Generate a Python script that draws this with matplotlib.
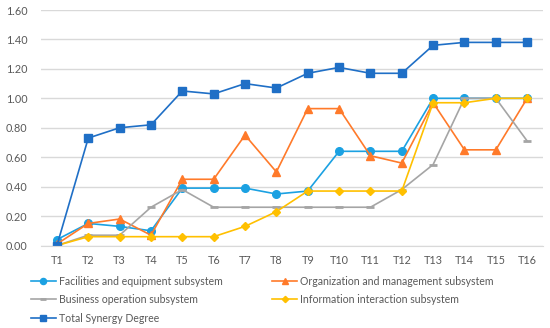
import matplotlib
matplotlib.use("Agg")
import matplotlib.pyplot as plt
import numpy as np

plt.rcParams['font.family'] = ['Lato', 'DejaVu Sans']

periods = ["T1", "T2", "T3", "T4", "T5", "T6", "T7", "T8",
           "T9", "T10", "T11", "T12", "T13", "T14", "T15", "T16"]

facilities = [0.04, 0.15, 0.13, 0.10, 0.39, 0.39, 0.39, 0.35,
              0.37, 0.64, 0.64, 0.64, 1.00, 1.00, 1.00, 1.00]
organization = [0.01, 0.15, 0.18, 0.07, 0.45, 0.45, 0.75, 0.50,
                0.93, 0.93, 0.61, 0.56, 0.97, 0.65, 0.65, 1.00]
business = [0.00, 0.07, 0.07, 0.26, 0.38, 0.26, 0.26, 0.26,
            0.26, 0.26, 0.26, 0.38, 0.55, 1.00, 1.00, 0.71]
information = [0.00, 0.06, 0.06, 0.06, 0.06, 0.06, 0.13, 0.23,
               0.37, 0.37, 0.37, 0.37, 0.97, 0.97, 1.00, 1.00]
total = [0.00, 0.73, 0.80, 0.82, 1.05, 1.03, 1.10, 1.07,
         1.17, 1.21, 1.17, 1.17, 1.36, 1.38, 1.38, 1.38]

x = np.arange(len(periods))

fig = plt.figure(figsize=(5.5, 3.28), dpi=100)
ax = fig.add_axes([0.075, 0.2515, 0.912, 0.718])

# series
l_fac, = ax.plot(x, facilities, color="#1BA1E2", marker="o", markersize=5.5,
                 lw=1.2, label="Facilities and equipment subsystem")
l_org, = ax.plot(x, organization, color="#FF7A2A", marker="^", markersize=5.5,
                 lw=1.2, label="Organization and management subsystem")
l_bus, = ax.plot(x, business, color="#A5A5A5", marker="_", markersize=6,
                 mew=2, lw=1.2, label="Business operation subsystem")
l_inf, = ax.plot(x, information, color="#FFC000", marker="D", markersize=4,
                 lw=1.2, label="Information interaction subsystem")
l_tot, = ax.plot(x, total, color="#1F6FC6", marker="s", markersize=5.5,
                 lw=1.2, label="Total Synergy Degree")

ax.set_xlim(-0.5, len(periods) - 0.5)
ax.set_ylim(0, 1.6)
ax.set_yticks(np.arange(0, 1.61, 0.2))
ax.set_yticklabels(["%.2f" % v for v in np.arange(0, 1.61, 0.2)])
ax.set_xticks(x)
ax.set_xticklabels(periods)

ax.grid(axis="y", color="#D9D9D9", lw=1)
ax.set_axisbelow(True)
for s in ["top", "right", "left"]:
    ax.spines[s].set_visible(False)
ax.spines["bottom"].set_color("#D9D9D9")
ax.tick_params(length=0, labelsize=7.8, colors="#595959")
ax.tick_params(axis="x", pad=6.5)
ax.tick_params(axis="y", pad=10)

# legend: column 1 = facilities, business, total; column 2 = organization, information
handles = [l_fac, l_bus, l_tot, l_org, l_inf]
fig.legend(handles=handles, labels=[h.get_label() for h in handles],
           ncol=2, loc="upper left", bbox_to_anchor=(0.046, 0.176),
           frameon=False, fontsize=7.6, labelcolor="#595959",
           handlelength=2.4, handletextpad=0.25, columnspacing=4.7,
           labelspacing=0.72, borderpad=0, markerscale=0.8)

fig.savefig("out.png", dpi=100)
